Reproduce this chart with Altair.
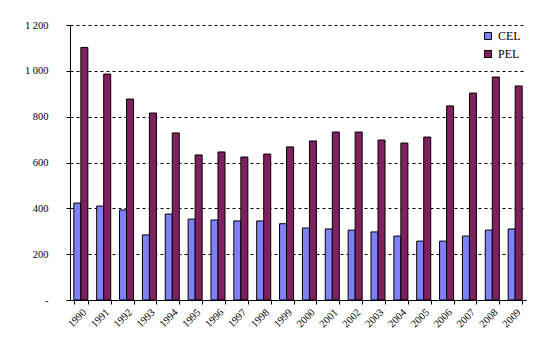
import altair as alt
import pandas as pd

years = [str(y) for y in range(1990, 2010)]
cel = [423, 410, 393, 284, 375, 353, 349, 345, 345, 333, 314, 310, 305, 297, 279, 257, 257, 279, 305, 310]
pel = [1102, 986, 877, 816, 729, 633, 646, 624, 637, 668, 694, 733, 733, 698, 685, 711, 847, 903, 973, 934]
series = ["CEL", "PEL"]
colors = ["#8080FF", "#802060"]

rows = []
for i, y in enumerate(years):
    rows.append({"year": y, "series": "CEL", "value": cel[i]})
    rows.append({"year": y, "series": "PEL", "value": pel[i]})
df = pd.DataFrame(rows)

font = "Liberation Serif"

chart = alt.Chart(df).mark_bar(stroke="black", strokeWidth=1).encode(
    x=alt.X("year:N", sort=years,
            scale=alt.Scale(paddingInner=0.386, paddingOuter=0.167),
            axis=alt.Axis(title=None, labelAngle=-45, labelFont=font, labelFontSize=10.5,
                          labelColor="#000", tickBand="extent", tickColor="black",
                          domainColor="black", tickSize=4, labelPadding=3, grid=False)),
    xOffset=alt.XOffset("series:N", sort=series),
    y=alt.Y("value:Q", scale=alt.Scale(domain=[0, 1200], nice=False),
            axis=alt.Axis(title=None, values=[0, 200, 400, 600, 800, 1000, 1200],
                          labelExpr="datum.value == 0 ? '-' : replace(format(datum.value, ','), ',', ' ')",
                          labelFont=font, labelFontSize=10.5, labelColor="#000",
                          grid=True, gridColor="black", gridDash=[3, 3], gridOpacity=1,
                          tickColor="black", tickSize=4, domainColor="black",
                          labelPadding=18, minExtent=50, maxExtent=50)),
    color=alt.Color("series:N", sort=series,
                    scale=alt.Scale(domain=series, range=colors),
                    legend=alt.Legend(title=None, orient="none", legendX=412, legendY=5,
                                      symbolType="square", symbolSize=50,
                                      symbolStrokeColor="black", symbolStrokeWidth=1,
                                      labelFont=font, labelFontSize=12, labelColor="#000",
                                      rowPadding=6, labelOffset=4)),
).properties(
    width=456, height=275,
    padding={"left": 12, "top": 12, "right": 5, "bottom": 5},
).configure_view(stroke=None)

chart.save("out.html", embed_options={"renderer": "svg", "actions": False})
